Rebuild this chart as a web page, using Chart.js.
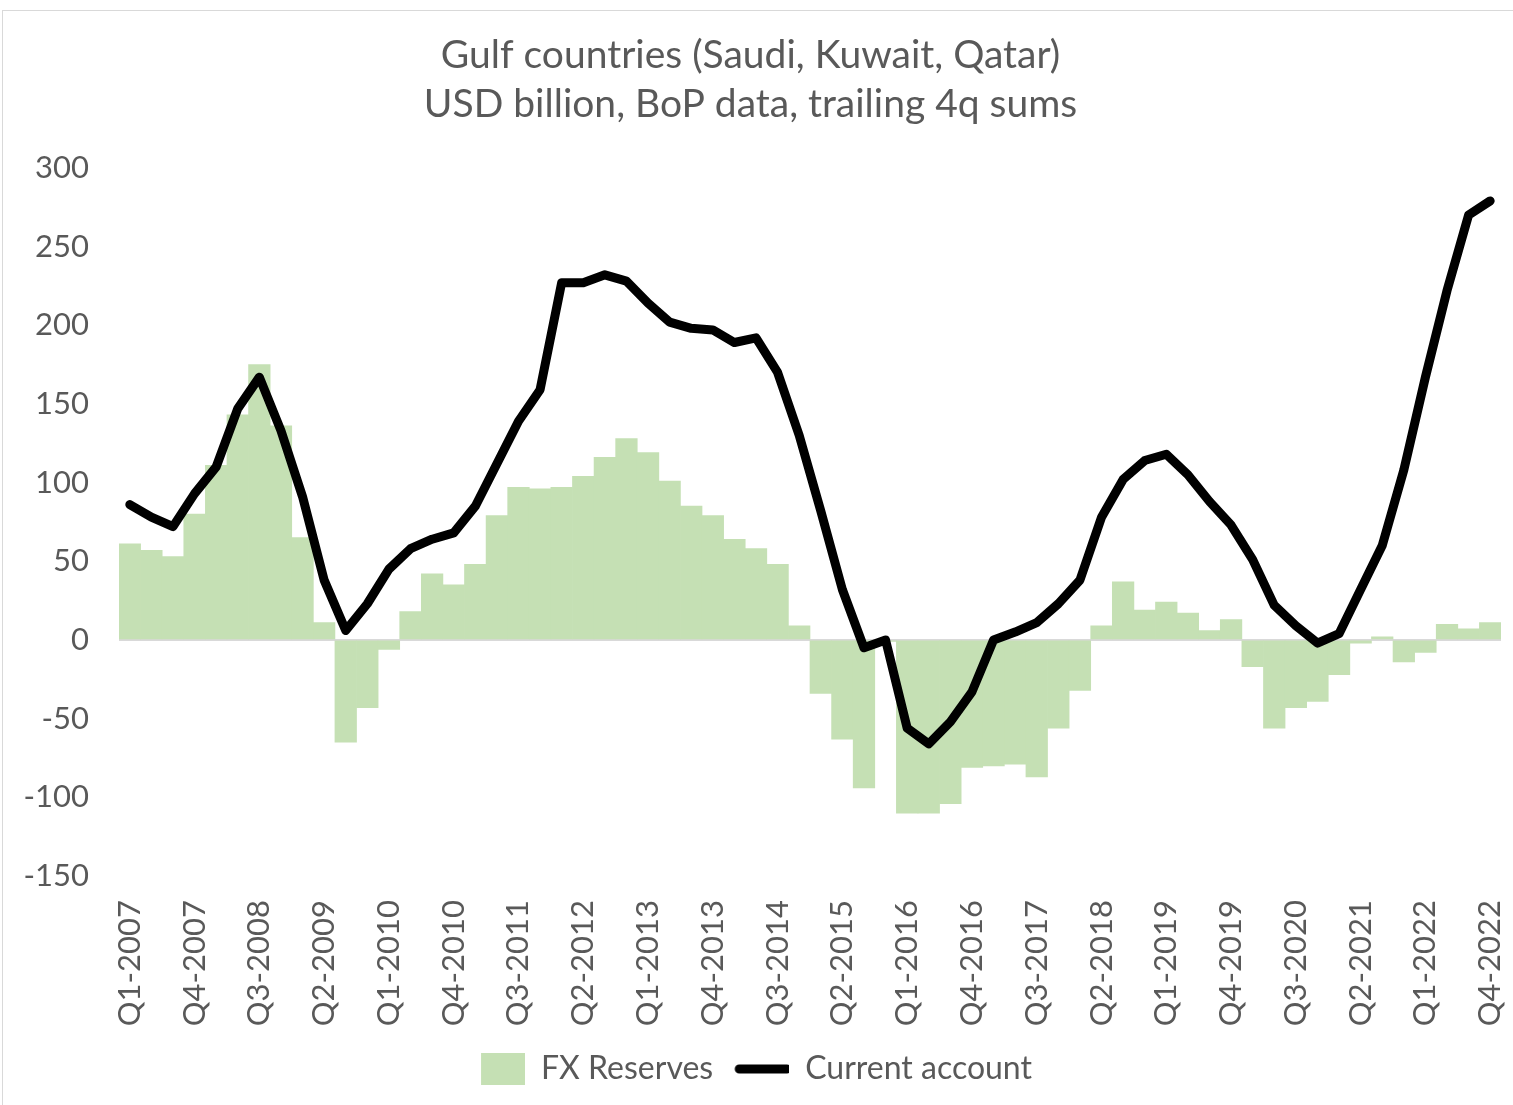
<!DOCTYPE html>
<html lang="en">
<head>
    <meta charset="UTF-8">
    <title>Gulf countries - FX reserves and current account</title>
    <script src="https://cdn.jsdelivr.net/npm/chart.js"></script>
    <style>
        body {
            margin: 0;
            background: #fff;
        }
        .frame {
            position: absolute;
            left: 2px;
            top: 10px;
            width: 1600px;
            height: 1200px;
            border: 1px solid #d9d9d9;
        }
        .wrap {
            position: absolute;
            left: 0;
            top: 0;
            width: 1513px;
            height: 1105px;
        }
    </style>
</head>
<body>
    <div class="frame"></div>
    <div class="wrap">
        <canvas id="chart" width="1513" height="1105"></canvas>
    </div>

    <script>
        // Quarters Q1-2007 .. Q4-2022
        const quarters = [
            'Q1-2007','Q2-2007','Q3-2007','Q4-2007','Q1-2008','Q2-2008','Q3-2008','Q4-2008',
            'Q1-2009','Q2-2009','Q3-2009','Q4-2009','Q1-2010','Q2-2010','Q3-2010','Q4-2010',
            'Q1-2011','Q2-2011','Q3-2011','Q4-2011','Q1-2012','Q2-2012','Q3-2012','Q4-2012',
            'Q1-2013','Q2-2013','Q3-2013','Q4-2013','Q1-2014','Q2-2014','Q3-2014','Q4-2014',
            'Q1-2015','Q2-2015','Q3-2015','Q4-2015','Q1-2016','Q2-2016','Q3-2016','Q4-2016',
            'Q1-2017','Q2-2017','Q3-2017','Q4-2017','Q1-2018','Q2-2018','Q3-2018','Q4-2018',
            'Q1-2019','Q2-2019','Q3-2019','Q4-2019','Q1-2020','Q2-2020','Q3-2020','Q4-2020',
            'Q1-2021','Q2-2021','Q3-2021','Q4-2021','Q1-2022','Q2-2022','Q3-2022','Q4-2022'
        ];

        // USD billion, trailing 4q sums
        const fxReserves = [
            61, 57, 53, 80, 111, 143, 175, 136, 65, 11,
            -65, -43, -6, 18, 42, 35, 48, 79, 97, 96,
            97, 104, 116, 128, 119, 101, 85, 79, 64, 58,
            48, 9, -34, -63, -94, -1, -110, -110, -104, -81,
            -80, -79, -87, -56, -32, 9, 37, 19, 24, 17,
            6, 13, -17, -56, -43, -39, -22, -2, 2, -14,
            -8, 10, 7, 11
        ];
        const currentAccount = [
            86, 78, 72, 93, 110, 147, 167, 133, 91, 38,
            6, 23, 45, 58, 64, 68, 85, 112, 139, 159,
            227, 227, 232, 228, 214, 202, 198, 197, 189, 192,
            170, 130, 82, 32, -5, 0, -56, -66, -52, -33,
            0, 5, 11, 23, 38, 78, 102, 114, 118, 105,
            88, 73, 51, 22, 9, -2, 4, 32, 60, 108,
            167, 222, 270, 279
        ];

        const titleLines = ['Gulf countries (Saudi, Kuwait, Qatar)', 'USD billion, BoP data, trailing 4q sums'];
        const yTicks = { min: -150, max: 300, step: 50 };

        const textColor = '#595959';
        const fontFamily = 'Lato, "Open Sans", sans-serif';

        // legend markers: green block and thick black line
        function makeMarker(kind) {
            const c = document.createElement('canvas');
            const g = c.getContext('2d');
            if (kind === 'bar') {
                c.width = 56; c.height = 32;
                g.fillStyle = '#c5e0b4';
                g.fillRect(12, 0, 44, 32);
            } else {
                c.width = 56; c.height = 12;
                g.strokeStyle = '#000';
                g.lineWidth = 9;
                g.lineCap = 'round';
                g.beginPath();
                g.moveTo(6, 6);
                g.lineTo(54, 6);
                g.stroke();
            }
            return c;
        }

        const plotLeft = 119;
        const plotBottom = 876;
        const padBottom = 10;

        const ctx = document.getElementById('chart').getContext('2d');
        const chart = new Chart(ctx, {
            type: 'bar',
            data: {
                labels: quarters,
                datasets: [{
                    type: 'bar',
                    label: 'FX Reserves',
                    data: fxReserves,
                    backgroundColor: '#c5e0b4',
                    borderWidth: 0,
                    categoryPercentage: 1.0,
                    barPercentage: 1.0,
                    pointStyle: makeMarker('bar'),
                    order: 2
                }, {
                    type: 'line',
                    label: 'Current account',
                    data: currentAccount,
                    borderColor: '#000',
                    backgroundColor: '#000',
                    borderWidth: 9,
                    borderJoinStyle: 'round',
                    borderCapStyle: 'round',
                    pointRadius: 0,
                    tension: 0,
                    pointStyle: makeMarker('line'),
                    order: 1
                }]
            },
            options: {
                responsive: false,
                animation: false,
                layout: {
                    padding: { left: 0, right: 12, top: 0, bottom: padBottom }
                },
                plugins: {
                    title: {
                        display: true,
                        text: titleLines,
                        color: textColor,
                        font: { family: fontFamily, size: 39, weight: 'normal', lineHeight: 1.28 },
                        padding: { top: 30, bottom: 38 }
                    },
                    legend: {
                        position: 'bottom',
                        labels: {
                            usePointStyle: true,
                            pointStyleWidth: 56,
                            color: textColor,
                            font: { family: fontFamily, size: 32 },
                            padding: 20,
                            sort: function (a, b) { return a.datasetIndex - b.datasetIndex; }
                        }
                    },
                    tooltip: { enabled: false }
                },
                scales: {
                    x: {
                        grid: { display: false, drawTicks: false },
                        border: { display: false },
                        ticks: {
                            autoSkip: false,
                            maxRotation: 90,
                            minRotation: 90,
                            padding: 24,
                            color: textColor,
                            font: { family: fontFamily, size: 31 },
                            callback: function (value, index) {
                                return index % 3 === 0 ? quarters[index] : '';
                            }
                        },
                        afterFit: function (scale) {
                            const c = scale.chart;
                            scale.height = c.height - padBottom - c.legend.height - plotBottom;
                            scale.paddingLeft = 0;
                            scale.paddingRight = 0;
                        }
                    },
                    y: {
                        min: yTicks.min,
                        max: yTicks.max,
                        border: { display: false },
                        grid: {
                            drawTicks: false,
                            lineWidth: 2,
                            color: function (c) {
                                return c.tick && c.tick.value === 0 ? '#d9d9d9' : 'rgba(0,0,0,0)';
                            }
                        },
                        ticks: {
                            stepSize: yTicks.step,
                            padding: 30,
                            color: textColor,
                            font: { family: fontFamily, size: 31 }
                        },
                        afterFit: function (scale) {
                            scale.width = plotLeft;
                        }
                    }
                }
            }
        });
    </script>
</body>
</html>
